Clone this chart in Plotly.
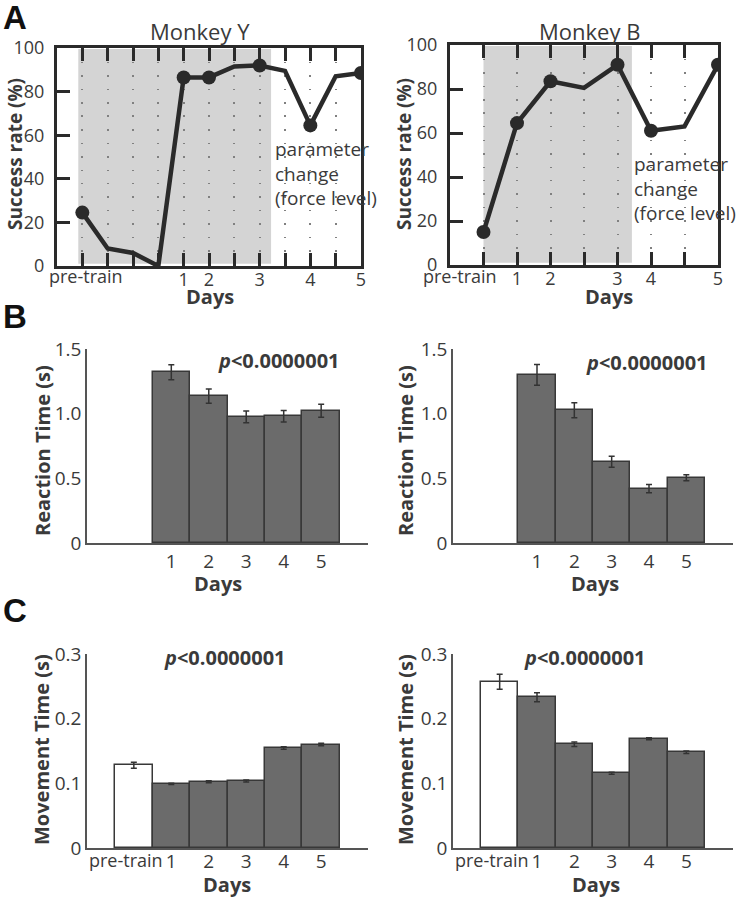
import plotly.graph_objects as go

W, H = 737, 899

# ---------------- data ----------------
# Panel A: success rate per session (session index along x)
y_sessions = list(range(12))
y_success = [24.5, 8, 6, 0, 86.5, 86.5, 91.5, 92, 89.5, 64.5, 87, 88.5]
y_day_sessions = [0, 4, 5, 7, 9, 11]          # pre-train, day1..day5
b_sessions = list(range(8))
b_success = [15, 64.5, 83.5, 80.5, 91, 61, 63, 91]
b_day_sessions = [0, 1, 2, 4, 5, 7]
day_labels = ["1", "2", "3", "4", "5"]

# Panels B & C: bar charts
bar_cats = ["pre-train", "1", "2", "3", "4", "5"]
rt_y = [None, 1.32, 1.136, 0.975, 0.98, 1.023]
rt_y_err = [None, 0.058, 0.055, 0.045, 0.045, 0.05]
rt_b = [None, 1.30, 1.026, 0.628, 0.42, 0.504]
rt_b_err = [None, 0.08, 0.058, 0.043, 0.032, 0.023]
mt_y = [0.128, 0.0993, 0.1024, 0.1035, 0.1547, 0.160]
mt_y_err = [0.0045, 0.001, 0.0015, 0.0015, 0.002, 0.002]
mt_b = [0.257, 0.233, 0.1606, 0.1155, 0.169, 0.148]
mt_b_err = [0.0115, 0.007, 0.0035, 0.0015, 0.0015, 0.002]

FONT = "Open Sans"
DARK = "#2a2a2a"
TXT = "#3a3a3a"


def dx(p0, p1):
    return [p0 / W, p1 / W]


def dy(top, bottom):
    return [1 - bottom / H, 1 - top / H]


fig = go.Figure()

# ---------------- Panel A ----------------
for xs, ys, days, ax in [(y_sessions, y_success, y_day_sessions, ""),
                         (b_sessions, b_success, b_day_sessions, "2")]:
    fig.add_trace(go.Scatter(x=xs, y=ys, mode="lines",
                             line=dict(color=DARK, width=4.5),
                             xaxis="x" + ax, yaxis="y" + ax, showlegend=False,
                             hoverinfo="skip"))
    fig.add_trace(go.Scatter(x=days, y=[ys[d] for d in days], mode="markers",
                             marker=dict(color=DARK, size=14),
                             xaxis="x" + ax, yaxis="y" + ax, showlegend=False))

# ---------------- Panels B & C ----------------
bar_x = list(range(len(bar_cats)))
bar_colors = ["white"] + ["#6b6b6b"] * 5
for vals, errs, ax in [(rt_y, rt_y_err, "3"), (rt_b, rt_b_err, "4"),
                       (mt_y, mt_y_err, "5"), (mt_b, mt_b_err, "6")]:
    fig.add_trace(go.Bar(x=bar_x, y=vals, width=1.0,
                         marker=dict(color=bar_colors,
                                     line=dict(color="#383838", width=1.5)),
                         error_y=dict(type="data", array=errs, visible=True,
                                      color="#333333", thickness=1.5, width=3),
                         xaxis="x" + ax, yaxis="y" + ax, showlegend=False))

# ---------------- axes ----------------
A_common_x = dict(showline=True, linewidth=3, linecolor=DARK, mirror="ticks",
                  ticks="inside", ticklen=13, tickwidth=3, tickcolor=DARK,
                  showgrid=True, gridcolor="#808080", gridwidth=1.5,
                  griddash="1.5px,12px", zeroline=False, automargin=False,
                  tickangle=0, ticklabelstandoff=-5,
                  tickfont=dict(family=FONT, size=18, color=TXT))
A_common_y = dict(showline=True, linewidth=3, linecolor=DARK, mirror=True,
                  ticks="inside", ticklen=13, tickwidth=3, tickcolor=DARK,
                  range=[0, 100], tickvals=[0, 20, 40, 60, 80, 100],
                  showgrid=False, zeroline=False, ticklabelstandoff=6,
                  automargin=False,
                  tickfont=dict(family=FONT, size=18, color=TXT))


def a_ticktext(n, days):
    t = [""] * n
    for d, lab in zip(days[1:], day_labels):
        t[d] = lab
    return t


fig.update_layout(
    xaxis=dict(A_common_x, domain=dx(57, 361), range=[-1, 11],
               tickvals=y_sessions, ticktext=a_ticktext(12, y_day_sessions),
               anchor="y"),
    yaxis=dict(A_common_y, domain=dy(48, 266), anchor="x"),
    xaxis2=dict(A_common_x, domain=dx(450, 718), range=[-1, 7],
                tickvals=b_sessions, ticktext=a_ticktext(8, b_day_sessions),
                anchor="y2"),
    yaxis2=dict(A_common_y, domain=dy(45, 265), anchor="x2"),
)

BC_x = dict(showline=True, linewidth=1.5, linecolor="#555555", ticks="",
            showgrid=False, zeroline=False, range=[-1.25, 6.25],
            tickvals=bar_x, automargin=False, tickangle=0,
            tickfont=dict(family=FONT, size=19, color=TXT))
BC_y = dict(showline=True, linewidth=1.5, linecolor="#555555", ticks="",
            showgrid=False, zeroline=False, automargin=False,
            tickfont=dict(family=FONT, size=19, color=TXT))
rt_ticks = dict(range=[0, 1.5], tickvals=[0, 0.5, 1.0, 1.5],
                ticktext=["0", "0.5", "1.0", "1.5"])
mt_ticks = dict(range=[0, 0.3], tickvals=[0, 0.1, 0.2, 0.3],
                ticktext=["0", "0.1", "0.2", "0.3"])
day_xtext = [""] + bar_cats[1:]

fig.update_layout(
    xaxis3=dict(BC_x, domain=dx(87, 368), ticktext=day_xtext, anchor="y3"),
    yaxis3=dict(BC_y, **rt_ticks, domain=dy(349, 543), anchor="x3"),
    xaxis4=dict(BC_x, domain=dx(453, 733), ticktext=day_xtext, anchor="y4"),
    yaxis4=dict(BC_y, **rt_ticks, domain=dy(349, 543), anchor="x4"),
    xaxis5=dict(BC_x, domain=dx(87, 368), ticktext=day_xtext, anchor="y5",
                ticklabelstandoff=-5),
    yaxis5=dict(BC_y, **mt_ticks, domain=dy(654, 848), anchor="x5"),
    xaxis6=dict(BC_x, domain=dx(453, 733), ticktext=day_xtext, anchor="y6",
                ticklabelstandoff=-5),
    yaxis6=dict(BC_y, **mt_ticks, domain=dy(654, 848), anchor="x6"),
)

# shaded training period (panel A)
SHADE_Y = (-0.16, 7.45)
SHADE_B = (0.0, 4.43)
for (x0, x1), ax in [(SHADE_Y, ""), (SHADE_B, "2")]:
    fig.add_shape(type="rect", xref="x" + ax, yref=("y" + ax) + " domain",
                  x0=x0, x1=x1, y0=0.01, y1=0.995, fillcolor="#d4d4d4",
                  line=dict(width=0), layer="below")

# ---------------- annotations ----------------
ann = []


def add_text(text, xp, yp, size, bold=False, angle=0, xanchor="center",
             yanchor="middle", family=FONT, color=TXT, align="center"):
    ann.append(dict(text=("<b>%s</b>" % text) if bold else text,
                    x=xp / W, y=1 - yp / H, xref="paper", yref="paper",
                    showarrow=False, textangle=angle, xanchor=xanchor,
                    yanchor=yanchor, align=align,
                    font=dict(family=family, size=size, color=color)))


# panel letters
for letter, yp in [("A", 17), ("B", 316), ("C", 610)]:
    add_text(letter, 15, yp, 33, bold=True, family="Liberation Sans",
             color="#111111")

# monkey titles
add_text("Monkey Y", 200, 31, 22)
add_text("Monkey B", 589, 31, 22)

# y titles
add_text("Success rate (%)", 15, 154, 19, bold=True, angle=-90)
add_text("Success rate (%)", 404, 154, 19, bold=True, angle=-90)
add_text("Reaction Time (s)", 42, 451, 20, bold=True, angle=-90)
add_text("Reaction Time (s)", 405, 451, 20, bold=True, angle=-90)
add_text("Movement Time (s)", 41, 750, 20, bold=True, angle=-90)
add_text("Movement Time (s)", 405, 750, 20, bold=True, angle=-90)

# x titles
add_text("Days", 210, 297, 20, bold=True)
add_text("Days", 609, 297, 20, bold=True)
add_text("Days", 218, 583, 20, bold=True)
add_text("Days", 595, 583, 20, bold=True)
add_text("Days", 227, 884, 20, bold=True)
add_text("Days", 596, 884, 20, bold=True)

# pre-train labels
add_text(bar_cats[0], 86, 276, 18)
add_text(bar_cats[0], 460, 276, 18)
add_text(bar_cats[0], 126, 860, 18)
add_text(bar_cats[0], 492, 860, 18)

# parameter change notes
add_text("parameter<br>change<br>(force level)", 273, 134, 19,
         xanchor="left", yanchor="top", align="left")
add_text("parameter<br>change<br>(force level)", 632, 149, 19,
         xanchor="left", yanchor="top", align="left")

# p-values
pv = "<i>p</i>&lt;0.0000001"
add_text(pv, 279, 361, 20, bold=True)
add_text(pv, 647, 362, 20, bold=True)
add_text(pv, 225, 657, 20, bold=True)
add_text(pv, 585, 657, 20, bold=True)

fig.update_layout(
    annotations=ann,
    width=W, height=H,
    margin=dict(l=0, r=0, t=0, b=0),
    paper_bgcolor="white", plot_bgcolor="white",
    bargap=0, showlegend=False,
    font=dict(family=FONT, color=TXT),
)

fig.write_html("out.html", config={"displayModeBar": False},
               post_script="document.body.style.margin='0';"
                           "document.body.style.overflow='hidden';")
